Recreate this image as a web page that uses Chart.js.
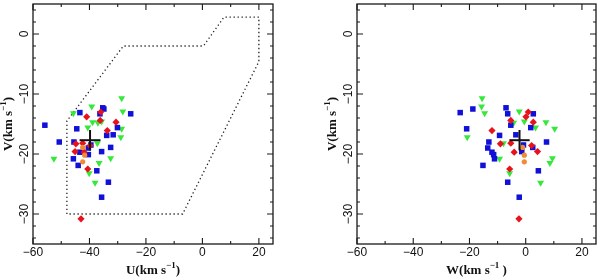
<!DOCTYPE html>
<html>
<head>
<meta charset="utf-8">
<script src="https://cdn.jsdelivr.net/npm/chart.js@4.4.1/dist/chart.umd.min.js"></script>
<style>
  body { margin: 0; background: #fff; }
  canvas { position: absolute; top: 0; }
</style>
</head>
<body>
<canvas id="uvChart" width="300" height="279" style="left:0"></canvas>
<canvas id="wvChart" width="300" height="279" style="left:300px"></canvas>
<script>
// Velocities (km/s), one entry per star
const blueU = [-43.4, -34.9, -44.5, -44.0, -45.5, -40.4, -43.4, -40.4, -45.7, -33.9, -35.3, -36.3, -55.8, -31.6, -35.7, -39.5, -33.3, -35.7, -25.4, -30.1, -37.4, -50.7, -32.5];
const blueV = [-13.1, -12.5, -15.8, -21.9, -18.0, -19.0, -19.7, -20.1, -20.8, -16.9, -12.3, -13.3, -15.2, -16.8, -19.6, -18.5, -24.7, -27.2, -13.3, -15.6, -22.8, -18.0, -18.9];
const blueW = [-23.3, -18.8, -21.0, -15.2, -13.1, -13.5, -12.0, -11.4, -11.1, -9.3, -7.0, -6.4, -5.3, -3.5, -1.4, -0.8, -6.4, -2.3, 2.7, 1.8, 4.5, 7.4, 2.5];

const greenU = [-28.6, -39.2, -28.2, -45.7, -38.9, -35.7, -40.6, -28.6, -37.0, -28.9, -37.2, -52.6, -32.5, -36.6, -40.1, -38.0];
const greenV = [-10.7, -12.1, -12.9, -13.2, -14.7, -14.6, -15.6, -15.8, -14.8, -17.2, -18.2, -20.8, -20.7, -21.5, -23.2, -24.8];
const greenW = [-15.5, -15.7, -2.3, -14.6, 7.2, -0.5, 3.5, 10.3, -4.3, -20.8, -7.9, -9.3, 9.5, 8.6, -5.7, 5.3];

const redU = [-41.0, -36.2, -30.6, -33.7, -40.6, -43.0, -36.0, -44.8, -42.4, -39.8, -45.1, -41.9];
const redV = [-13.8, -14.4, -14.7, -16.1, -22.5, -30.8, -13.0, -18.3, -18.2, -18.6, -19.6, -19.7];
const redW = [0.1, -5.3, 2.7, -12.0, -5.7, -2.4, 0.9, -9.0, -5.3, 2.1, 4.2, -4.1];

const orangeU = [-42.4, -41.7, -42.4];
const orangeV = [-18.9, -20.2, -21.3];
const orangeW = [-1.1, -0.5, -0.5];

// mean and spread (the black cross)
const meanU = -39.8, meanV = -17.7, meanW = -2.2;
const errU = 3.7, errV = 1.7, errW = 3.6;

// dotted box on the U-V plane
const boxU = [-48, -48, -28, 0.4, 7.6, 20, 20, -7, -48];
const boxV = [-30, -14.5, -2, -2, 2.8, 2.8, -4.6, -30, -30];

const xTicks = [-60, -40, -20, 0, 20];
const yTicks = [0, -10, -20, -30];

const pts = (xs, ys) => xs.map((x, i) => ({ x: x, y: ys[i] }));
const minus = s => String(s).replace('-', '\u2212');

const framePlugin = {
  id: 'frame',
  afterDraw(chart, args, opts) {
    const ctx = chart.ctx;
    const a = chart.chartArea;
    const xs = chart.scales.x, ys = chart.scales.y;
    ctx.save();
    ctx.strokeStyle = '#1a1a1a';
    ctx.lineWidth = 1.3;
    ctx.strokeRect(a.left, a.top, a.right - a.left, a.bottom - a.top);

    // ticks on all four sides, pointing inward
    ctx.lineWidth = 1.1;
    ctx.beginPath();
    for (let v = -60; v <= 25; v += 10) {
      const px = xs.getPixelForValue(v);
      const len = v % 20 === 0 ? 6 : 3;
      ctx.moveTo(px, a.bottom); ctx.lineTo(px, a.bottom - len);
      ctx.moveTo(px, a.top); ctx.lineTo(px, a.top + len);
    }
    for (let v = -34; v <= 4; v += 2) {
      const py = ys.getPixelForValue(v);
      const len = v % 10 === 0 ? 6 : 3;
      ctx.moveTo(a.left, py); ctx.lineTo(a.left + len, py);
      ctx.moveTo(a.right, py); ctx.lineTo(a.right - len, py);
    }
    ctx.stroke();

    // tick labels
    ctx.fillStyle = '#111';
    ctx.font = '12px "Liberation Sans", Arial, sans-serif';
    ctx.textAlign = 'center';
    ctx.textBaseline = 'middle';
    xTicks.forEach(v => ctx.fillText(minus(v), xs.getPixelForValue(v), a.bottom + 9));
    yTicks.forEach(v => {
      ctx.save();
      ctx.translate(a.left - 8, ys.getPixelForValue(v));
      ctx.rotate(-Math.PI / 2);
      ctx.fillText(minus(v), 0, 0);
      ctx.restore();
    });

    // axis titles with superscript
    const drawTitle = (parts, cx, cy) => {
      const big = 'bold 13px "Liberation Serif", "Times New Roman", serif';
      const small = 'bold 9px "Liberation Serif", "Times New Roman", serif';
      let w = 0;
      parts.forEach(p => { ctx.font = p.sup ? small : big; w += ctx.measureText(p.t).width; });
      let x = cx - w / 2;
      ctx.textAlign = 'left';
      ctx.textBaseline = 'middle';
      parts.forEach(p => {
        ctx.font = p.sup ? small : big;
        ctx.fillText(p.t, x, p.sup ? cy - 5 : cy);
        x += ctx.measureText(p.t).width;
      });
    };
    const xc = (a.left + a.right) / 2;
    drawTitle([{ t: opts.xName + '(km s' }, { t: '\u22121', sup: true }, { t: opts.xClose }], xc, 271);
    ctx.save();
    ctx.translate(a.left - 24, (a.top + a.bottom) / 2);
    ctx.rotate(-Math.PI / 2);
    drawTitle([{ t: 'V(km s' }, { t: '\u22121', sup: true }, { t: ')' }], 0, 0);
    ctx.restore();
    ctx.restore();
  }
};

function crossSets(mx, my, ex, ey) {
  const style = { showLine: true, borderColor: '#111', borderWidth: 2, pointRadius: 0, order: 1 };
  return [
    Object.assign({ data: [{ x: mx - ex, y: my }, { x: mx + ex, y: my }] }, style),
    Object.assign({ data: [{ x: mx, y: my - ey }, { x: mx, y: my + ey }] }, style)
  ];
}

function makeChart(id, blueX, greenX, redX, orangeX, mx, ex, extra, padding, xName, xClose) {
  const datasets = [
    { label: 'green', data: pts(greenX, greenV), pointStyle: 'triangle', pointRotation: 180, pointRadius: 4, backgroundColor: '#35e83a', borderWidth: 0, order: 5 },
    { label: 'blue', data: pts(blueX, blueV), pointStyle: 'rect', pointRadius: 3.9, backgroundColor: '#1010d8', borderWidth: 0, order: 4 },
    { label: 'red', data: pts(redX, redV), pointStyle: 'rectRot', pointRadius: 3.6, backgroundColor: '#e8121c', borderWidth: 0, order: 3 },
    { label: 'orange', data: pts(orangeX, orangeV), pointStyle: 'circle', pointRadius: 2.6, backgroundColor: '#f08a34', borderWidth: 0, order: 2 }
  ].concat(crossSets(mx, meanV, ex, errV)).concat(extra);

  return new Chart(document.getElementById(id), {
    type: 'scatter',
    data: { datasets: datasets },
    options: {
      responsive: false,
      animation: false,
      layout: { padding: padding },
      scales: {
        x: { type: 'linear', min: -60, max: 25, display: false },
        y: { type: 'linear', min: -35, max: 5, display: false }
      },
      plugins: {
        legend: { display: false },
        tooltip: { enabled: false },
        frame: { xName: xName, xClose: xClose }
      }
    },
    plugins: [framePlugin]
  });
}

const boxSet = {
  label: 'box', data: pts(boxU, boxV), showLine: true, borderColor: '#222',
  borderWidth: 1.3, borderDash: [1.3, 2.7], pointRadius: 0, fill: false, order: 6
};

makeChart('uvChart', blueU, greenU, redU, orangeU, meanU, errU, [boxSet],
  { left: 33, right: 27, top: 4, bottom: 35 }, 'U', ')');
makeChart('wvChart', blueW, greenW, redW, orangeW, meanW, errW, [],
  { left: 57, right: 2, top: 4, bottom: 35 }, 'W', ' )');
</script>
</body>
</html>
